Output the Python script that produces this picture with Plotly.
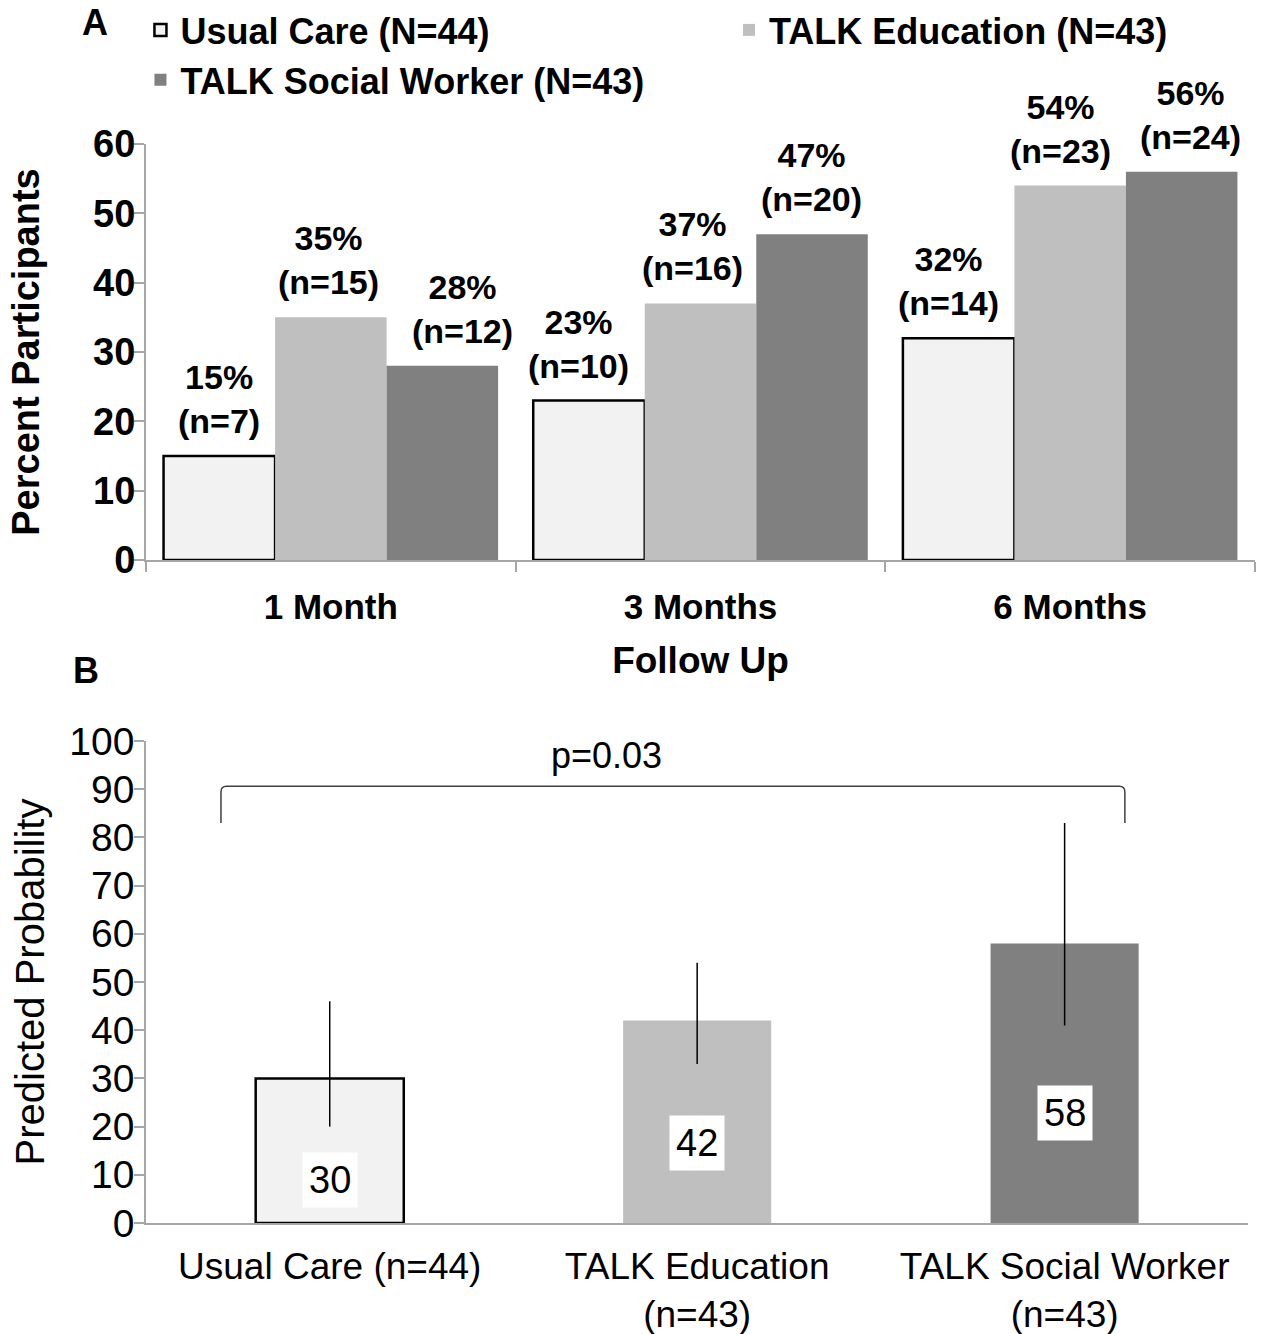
import plotly.graph_objects as go

# ---------------- Data ----------------
# Panel A
followup = ["1 Month", "3 Months", "6 Months"]
group_names = ["Usual Care (N=44)", "TALK Education (N=43)", "TALK Social Worker (N=43)"]
pct_usual = [15, 23, 32]
pct_edu = [35, 37, 54]
pct_sw = [28, 47, 56]
n_usual = [7, 10, 14]
n_edu = [15, 16, 23]
n_sw = [12, 20, 24]

# Panel B
arms = ["Usual Care (n=44)", "TALK Education<br>(n=43)", "TALK Social Worker<br>(n=43)"]
pred_prob = [30, 42, 58]
ci_lower = [20, 33, 41]
ci_upper = [46, 54, 83]
p_text = "p=0.03"

# ---------------- Layout helpers ----------------
W, H = 1264, 1334
L, R = 146, 9
PW = W - L - R
FONT = "Liberation Sans, Arial, Helvetica, sans-serif"


def px_x(px):
    return (px - L) / PW


def px_y(py):
    return 1 - py / H


c_usual = "#f2f2f2"
c_edu = "#bfbfbf"
c_sw = "#808080"
axis_gray = "#a6a6a6"
BARGAP_A = 0.095

fig = go.Figure()

series = [
    (group_names[0], pct_usual, n_usual, c_usual, "black", 2.5, "legend"),
    (group_names[1], pct_edu, n_edu, c_edu, c_edu, 0, "legend2"),
    (group_names[2], pct_sw, n_sw, c_sw, c_sw, 0, "legend"),
]
for i, (name, vals, ns, col, lcol, lw, lg) in enumerate(series):
    fig.add_trace(go.Bar(
        x=followup, y=vals, name=name, legend=lg, legendgroup=name,
        marker=dict(color=col, line=dict(color=lcol, width=lw)),
        xaxis="x", yaxis="y",
    ))

# value labels above bars in panel A (manual horizontal nudges like the original)
label_dx = [[0, -10, -10], [-2, -8, -10], [20, -1, 9]]
bar_w = (1 - BARGAP_A) / 3
annotations = []
for i, (name, vals, ns, *_rest) in enumerate(series):
    for j, (v, n) in enumerate(zip(vals, ns)):
        annotations.append(dict(
            text=f"{v}%<br>(n={n})", x=j + (i - 1) * bar_w, y=v,
            xref="x", yref="y", xanchor="center", yanchor="bottom",
            yshift=14, xshift=label_dx[i][j], showarrow=False,
            font=dict(family=FONT, size=34, color="black", weight="bold")))

fig.add_trace(go.Bar(
    x=arms, y=pred_prob, width=0.403, showlegend=False,
    marker=dict(color=[c_usual, c_edu, c_sw],
                line=dict(color=["black", c_edu, c_sw], width=[2.5, 0, 0])),
    error_y=dict(type="data", symmetric=False,
                 array=[u - v for u, v in zip(ci_upper, pred_prob)],
                 arrayminus=[v - l for v, l in zip(pred_prob, ci_lower)],
                 width=0, thickness=1.5, color="black"),
    xaxis="x2", yaxis="y2",
))

annotations += [
    dict(text="<b>A</b>", x=px_x(95), y=px_y(22), xref="paper", yref="paper",
         xanchor="center", yanchor="middle",
         showarrow=False, font=dict(family=FONT, size=36, color="black")),
    dict(text="<b>B</b>", x=px_x(86), y=px_y(670), xref="paper", yref="paper",
         xanchor="center", yanchor="middle",
         showarrow=False, font=dict(family=FONT, size=36, color="black")),
    dict(text=p_text, x=0.754, y=97, xref="x2", yref="y2", showarrow=False,
         xanchor="center", yanchor="middle",
         font=dict(family=FONT, size=36, color="black")),
]
label_y = [9, 16.6, 22.8]
for cat, v, ly in zip(arms, pred_prob, label_y):
    annotations.append(dict(
        text=str(v), x=cat, y=ly, xref="x2", yref="y2", showarrow=False,
        xanchor="center", yanchor="middle",
        bgcolor="white", borderpad=6,
        font=dict(family=FONT, size=38, color="black")))

xl, xr, yb, yt = -0.296, 2.164, 83, 90.6
bracket = (f"M {xl},{yb} L {xl},{yt-1.2} Q {xl},{yt} {xl+0.015},{yt} "
           f"L {xr-0.015},{yt} Q {xr},{yt} {xr},{yt-1.2} L {xr},{yb}")

legend_font = dict(family=FONT, size=36, color="black", weight="bold")
fig.update_layout(
    width=W, height=H,
    margin=dict(l=L, r=R, t=0, b=0),
    plot_bgcolor="white", paper_bgcolor="white",
    font=dict(family=FONT, color="black"),
    bargap=BARGAP_A, bargroupgap=0,
    barmode="group",
    legend=dict(orientation="v", x=-0.005, y=1, xanchor="left", yanchor="top",
                traceorder="normal", tracegroupgap=11, font=legend_font,
                bgcolor="rgba(0,0,0,0)"),
    legend2=dict(orientation="v", x=px_x(729), y=1, xanchor="left", yanchor="top",
                 font=legend_font, bgcolor="rgba(0,0,0,0)"),
    xaxis=dict(domain=[0, 1], anchor="y", type="category",
               showline=True, linecolor=axis_gray, linewidth=2,
               ticks="outside", tickson="boundaries", ticklen=10,
               tickcolor=axis_gray, tickwidth=2, showgrid=False,
               ticklabelstandoff=15,
               tickfont=dict(family=FONT, size=35, color="black", weight="bold"),
               title=dict(text="Follow Up", standoff=22,
                          font=dict(family=FONT, size=37, color="black", weight="bold")),
               automargin=False),
    yaxis=dict(domain=[px_y(560), px_y(144)], anchor="x", range=[0, 60], dtick=10,
               showline=True, linecolor=axis_gray, linewidth=2,
               ticks="outside", ticklen=10, tickcolor=axis_gray, tickwidth=2,
               showgrid=False, zeroline=False, ticklabelstandoff=-9,
               tickfont=dict(family=FONT, size=38, color="black", weight="bold"),
               title=dict(text="Percent Participants", standoff=42,
                          font=dict(family=FONT, size=38, color="black", weight="bold")),
               automargin=False),
    xaxis2=dict(domain=[0, 0.994], anchor="y2", type="category",
                showline=True, linecolor=axis_gray, linewidth=1.5,
                ticks="", showgrid=False, ticklabelstandoff=10,
                tickfont=dict(family=FONT, size=37, color="black"),
                automargin=False),
    yaxis2=dict(domain=[px_y(1223), px_y(741)], anchor="x2", range=[0, 100], dtick=10,
                showline=True, linecolor=axis_gray, linewidth=1.5,
                ticks="outside", ticklen=10, tickcolor=axis_gray, tickwidth=1.5,
                showgrid=False, zeroline=False, ticklabelstandoff=-8,
                tickfont=dict(family=FONT, size=39, color="black"),
                title=dict(text="Predicted Probability", standoff=12,
                           font=dict(family=FONT, size=40, color="black")),
                automargin=False),
    annotations=annotations,
    shapes=[dict(type="path", path=bracket, xref="x2", yref="y2",
                 line=dict(color="#404040", width=1.5))],
)

fig.write_html("out.html", post_script="document.body.style.margin='0';",
               config={"displayModeBar": False})
